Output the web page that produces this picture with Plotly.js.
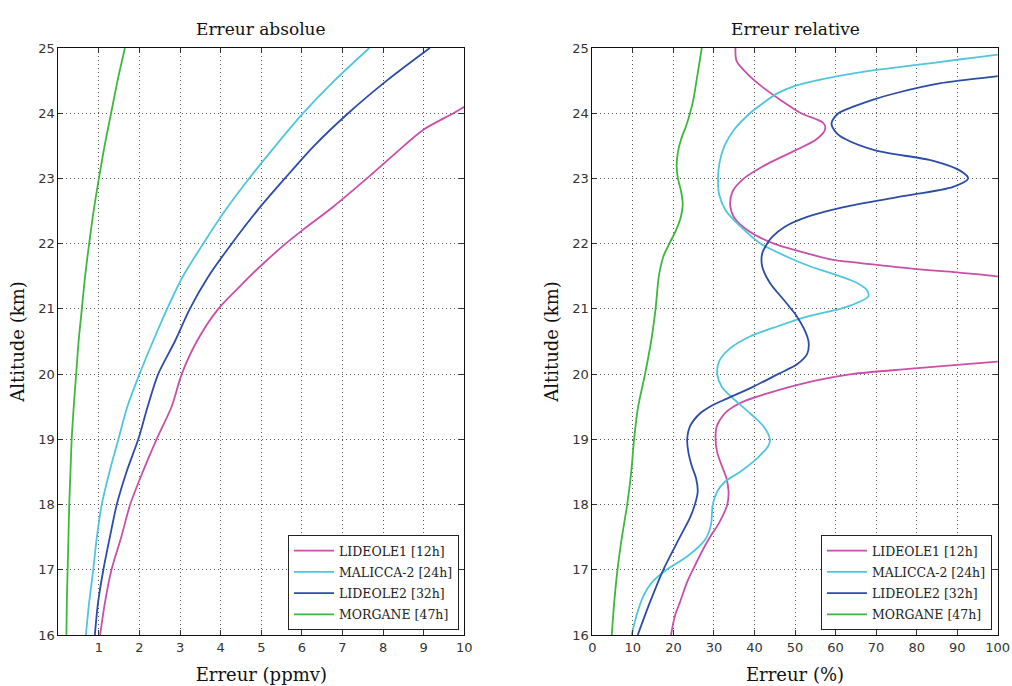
<!DOCTYPE html>
<html>
<head>
<meta charset="utf-8">
<script src="https://cdn.plot.ly/plotly-3.0.1.min.js"></script>
<style>html,body{margin:0;padding:0;background:#fff;}#chart{width:1012px;height:686px;}</style>
</head>
<body>
<div id="chart"></div>
<script>
// ---------- series names & colours ----------
var seriesNames = ['LIDEOLE1 [12h]', 'MALICCA-2 [24h]', 'LIDEOLE2 [32h]', 'MORGANE [47h]'];
var seriesColors = ['#C94FAA', '#4FC6DC', '#2C4DA6', '#3DB83D'];

// ---------- left panel: absolute error (ppmv) ----------
var absAlt = [16, 16.5, 17, 17.5, 18, 18.5, 19, 19.5, 20, 20.5, 21, 21.5, 22, 22.5, 23, 23.5, 24, 24.5, 25];
var absLideole1Alt = [16, 16.5, 17, 17.5, 18, 18.5, 19, 19.5, 20, 20.5, 21, 21.35, 21.65, 22, 22.2, 22.57, 23, 23.4, 23.75, 24, 24.1, 24.2];
var absLideole1 = [1.03, 1.15, 1.31, 1.55, 1.77, 2.08, 2.42, 2.79, 3.04, 3.41, 3.94, 4.48, 4.97, 5.6, 6.0, 6.78, 7.6, 8.33, 9.0, 9.73, 10.0, 10.25];
var absMalicca = [0.68, 0.76, 0.86, 0.95, 1.07, 1.26, 1.48, 1.70, 2.0, 2.33, 2.68, 3.07, 3.57, 4.1, 4.7, 5.35, 6.03, 6.8, 7.66];
var absLideole2 = [0.90, 0.98, 1.11, 1.27, 1.44, 1.68, 1.97, 2.20, 2.46, 2.87, 3.24, 3.70, 4.27, 4.89, 5.58, 6.30, 7.14, 8.09, 9.15];
var absMorgane = [0.20, 0.21, 0.23, 0.25, 0.27, 0.30, 0.33, 0.38, 0.44, 0.50, 0.58, 0.66, 0.76, 0.87, 1.0, 1.14, 1.30, 1.46, 1.64];

// ---------- right panel: relative error (%) ----------
var relLideole1Alt = [16, 16.3, 16.5, 16.8, 17, 17.3, 17.5, 17.7, 18, 18.2, 18.4, 18.6, 18.8, 19, 19.2, 19.4, 19.5, 19.6, 19.7, 19.8, 19.9, 20.0, 20.08, 20.19, 20.22,
  null,
  21.47, 21.5, 21.56, 21.61, 21.68, 21.75, 21.85, 22.0, 22.21, 22.41, 22.6, 22.8, 23.0, 23.22, 23.43, 23.6, 23.75, 23.85, 24.0, 24.2, 24.4, 24.6, 24.8, 25];
var relLideole1 = [19.4, 20.4, 21.6, 23.3, 24.8, 27.2, 29.0, 31.1, 33.3, 33.6, 33.1, 31.9, 30.8, 30.4, 30.7, 32.7, 34.8, 38.1, 43.0, 48.5, 55.0, 64.0, 78.0, 100, 106,
  null,
  103, 99.7, 89.9, 80.0, 69.7, 59.4, 53.0, 44.8, 38.2, 34.9, 34.0, 34.6, 37.4, 43.1, 50.1, 55.3, 57.4, 57.0, 51.5, 46.5, 42.0, 38.3, 35.6, 35.3];

var relMaliccaAlt = [16, 16.3, 16.6, 16.8, 17.0, 17.2, 17.4, 17.5, 17.7, 18.0, 18.2, 18.35, 18.5, 18.7, 18.9, 19.0, 19.2, 19.4, 19.6, 19.8, 20.0, 20.2, 20.38, 20.58, 20.73, 20.88, 21.0, 21.09, 21.19, 21.29, 21.4, 21.5, 21.65, 21.8, 22.0, 22.26, 22.51, 22.75, 23.0, 23.25, 23.5, 23.75, 24.0, 24.15, 24.3, 24.42, 24.52, 24.62, 24.74, 24.82, 24.9, 24.95];
var relMalicca = [9.7, 10.9, 12.6, 14.6, 18.3, 23.3, 27.0, 28.2, 29.3, 29.7, 30.8, 32.7, 36.4, 40.5, 43.4, 43.8, 42.2, 38.9, 35.2, 32.0, 30.8, 31.3, 33.7, 39.0, 45.6, 53.0, 61.1, 65.2, 68.1, 67.7, 65.2, 61.1, 53.8, 48.0, 41.5, 36.6, 32.9, 31.3, 31.0, 31.4, 32.6, 35.0, 38.9, 42.0, 45.5, 50.0, 56.5, 65.2, 80.0, 90.0, 100, 106];

var relLideole2Alt = [16, 16.5, 17.0, 17.5, 17.8, 18.0, 18.2, 18.4, 18.6, 18.8, 19.0, 19.2, 19.4, 19.5, 19.6, 19.8, 20.0, 20.15, 20.31, 20.45, 20.58, 20.88, 21.14, 21.39, 21.65, 21.85, 22.0, 22.1, 22.26, 22.41, 22.56, 22.72, 22.87, 23.0, 23.12, 23.27, 23.43, 23.6, 23.7, 23.85, 24.0, 24.1, 24.21, 24.31, 24.46, 24.57, 24.65];
var relLideole2 = [11.2, 14.2, 17.5, 21.6, 24.1, 25.3, 26.0, 25.6, 24.5, 23.7, 23.4, 24.1, 26.6, 29.0, 32.3, 39.5, 45.8, 50.5, 53.0, 53.4, 53.0, 50.5, 47.2, 43.9, 41.9, 41.9, 43.1, 44.3, 47.5, 53.0, 62.0, 75.9, 89.0, 92.7, 90.7, 84.1, 69.8, 62.5, 60.2, 59.0, 60.7, 64.4, 69.3, 75.0, 86.0, 100, 108];

var relMorganeAlt = [16, 16.5, 17, 17.5, 18, 18.5, 19, 19.5, 20, 20.5, 21, 21.5, 21.8, 22, 22.2, 22.4, 22.6, 22.8, 23, 23.2, 23.4, 23.6, 23.8, 24, 24.2, 24.5, 25];
var relMorgane = [4.8, 5.4, 6.2, 7.3, 8.6, 9.6, 10.3, 11.3, 13.0, 14.5, 15.6, 16.4, 17.5, 19.0, 20.6, 21.8, 22.3, 21.9, 21.1, 20.8, 21.1, 21.9, 23.1, 24.1, 24.9, 25.7, 27.0];

// ---------- axis ticks ----------
var altTicks = [16, 17, 18, 19, 20, 21, 22, 23, 24, 25];
var absTicks = [1, 2, 3, 4, 5, 6, 7, 8, 9, 10];
var relTicks = [0, 10, 20, 30, 40, 50, 60, 70, 80, 90, 100];

var absX = [absLideole1, absMalicca, absLideole2, absMorgane];
var absY = [absLideole1Alt, absAlt, absAlt, absAlt];
var relX = [relLideole1, relMalicca, relLideole2, relMorgane];
var relY = [relLideole1Alt, relMaliccaAlt, relLideole2Alt, relMorganeAlt];

var traces = [];
for (var i = 0; i < 4; i++) {
  traces.push({
    x: absX[i], y: absY[i], xaxis: 'x', yaxis: 'y', type: 'scatter', mode: 'lines',
    name: seriesNames[i], legend: 'legend', legendgroup: 'a' + i,
    line: {color: seriesColors[i], width: 1.8, shape: 'spline', smoothing: 0.8},
    connectgaps: false, hoverinfo: 'skip'
  });
}
for (var j = 0; j < 4; j++) {
  traces.push({
    x: relX[j], y: relY[j], xaxis: 'x2', yaxis: 'y2', type: 'scatter', mode: 'lines',
    name: seriesNames[j], legend: 'legend2', legendgroup: 'r' + j,
    line: {color: seriesColors[j], width: 1.8, shape: 'spline', smoothing: 0.8},
    connectgaps: false, hoverinfo: 'skip'
  });
}

var serif = 'DejaVu Serif, serif';
var sans = 'DejaVu Sans, sans-serif';

function axisBase(extra) {
  var a = {
    showline: true, linecolor: '#111', linewidth: 1, mirror: 'ticks',
    ticks: 'inside', ticklen: 5, tickcolor: '#333', tickwidth: 1,
    showgrid: true, gridcolor: '#555', griddash: '1px,3px', gridwidth: 1,
    zeroline: false, automargin: false,
    tickfont: {family: sans, size: 13, color: '#333'}
  };
  for (var k in extra) a[k] = extra[k];
  return a;
}

var legendBase = {
  font: {family: serif, size: 12.5, color: '#222'},
  bgcolor: '#fff', bordercolor: '#222', borderwidth: 1,
  xref: 'paper', yref: 'paper', xanchor: 'right', yanchor: 'bottom',
  traceorder: 'grouped', tracegroupgap: 2, itemwidth: 40, itemclick: false
};
function legendAt(x, y) {
  var l = {};
  for (var k in legendBase) l[k] = legendBase[k];
  l.x = x; l.y = y;
  return l;
}

var layout = {
  width: 1012, height: 686,
  margin: {l: 0, r: 0, t: 48, b: 51},
  paper_bgcolor: '#fff', plot_bgcolor: '#fff',
  showlegend: true,
  xaxis: axisBase({domain: [0.0576, 0.4588], range: [0, 10], tickvals: absTicks, anchor: 'y',
    title: {text: 'Erreur (ppmv)', font: {family: serif, size: 18, color: '#111'}, standoff: 14}}),
  yaxis: axisBase({domain: [0, 1], range: [16, 25], tickvals: altTicks, anchor: 'x',
    title: {text: 'Altitude (km)', font: {family: serif, size: 18, color: '#111'}, standoff: 8}}),
  xaxis2: axisBase({domain: [0.5853, 0.9859], range: [0, 100], tickvals: relTicks, anchor: 'y2',
    title: {text: 'Erreur (%)', font: {family: serif, size: 18, color: '#111'}, standoff: 14}}),
  yaxis2: axisBase({domain: [0, 1], range: [16, 25], tickvals: altTicks, anchor: 'x2',
    title: {text: 'Altitude (km)', font: {family: serif, size: 18, color: '#111'}, standoff: 8}}),
  legend: legendAt(0.4536, 0.0085),
  legend2: legendAt(0.9802, 0.0085),
  annotations: [
    {text: 'Erreur absolue', xref: 'paper', yref: 'paper', x: 0.2582, y: 1.033, xanchor: 'center', yanchor: 'middle',
     showarrow: false, font: {family: serif, size: 17, color: '#111'}},
    {text: 'Erreur relative', xref: 'paper', yref: 'paper', x: 0.7856, y: 1.033, xanchor: 'center', yanchor: 'middle',
     showarrow: false, font: {family: serif, size: 17, color: '#111'}}
  ]
};

Plotly.newPlot('chart', traces, layout, {displayModeBar: false, staticPlot: true});
</script>
</body>
</html>
